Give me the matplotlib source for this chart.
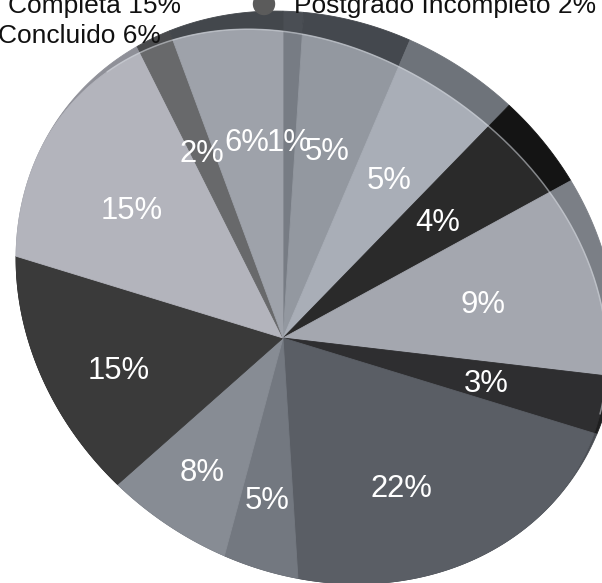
import numpy as np
import matplotlib
matplotlib.use("Agg")
import matplotlib.pyplot as plt
from matplotlib.patches import Polygon, Circle

# ---------------- data ----------------
values = [1, 5, 5, 4, 9, 3, 22, 5, 8, 15, 15, 2, 6]          # clockwise from 12 o'clock
pct_labels = [f"{v}%" for v in values]
legend_names = ["Completa", "Concluido", "Postgrado Incompleto"]
legend_values = [15, 6, 2]

# ---------------- style ----------------
face_colors = ["#777c84", "#9398a0", "#a9aeb7", "#2a2a2a", "#a4a7af", "#2e2e30",
               "#5a5e65", "#737880", "#878c94", "#3a3a3a", "#b3b4bc", "#68696b", "#9ea2aa"]
rim_colors = ["#4a4e54", "#44484e", "#6e737a", "#141414", "#7b7f86", "#1e1e1f",
              "#4a4d53", "#5c6067", "#6d7178", "#2c2c2c", "#8f9098", "#4a4b4d", "#43474c"]

# ---------------- layout (pixel frame of the tilted, perspective pie) ----------------
ECX, ECY, EA, EB, EANG = 316.1, 297.5, 271.4, 313.7, 125.6   # outline ellipse
APEX = np.array([283.0, 338.0])                               # pie centre as seen
SHEAR = 0.18                                                  # perspective skew of angles
RIM_MAX, RIM_DIR = 30.0, 55.0                                 # visible side wall
LABEL_P, LABEL_Q = 45.0, 0.5                                  # label distance = P + Q * radius


def img_angle(alpha):
    ar = np.radians(alpha)
    return np.degrees(np.arctan2(np.sin(ar) - SHEAR * np.cos(ar), np.cos(ar)))


def ray_len(beta):
    br = np.radians(beta)
    dvec = np.array([np.cos(br), -np.sin(br)])
    th = np.radians(EANG)
    R = np.array([[np.cos(th), -np.sin(th)], [np.sin(th), np.cos(th)]])
    q0 = R.T @ (APEX - [ECX, ECY]) / [EA, EB]
    qd = R.T @ dvec / [EA, EB]
    A2, B2, C2 = qd @ qd, 2 * q0 @ qd, q0 @ q0 - 1
    return (-B2 + np.sqrt(B2 ** 2 - 4 * A2 * C2)) / (2 * A2), dvec


def rim(beta):
    return RIM_MAX * np.clip(np.cos(np.radians(beta - RIM_DIR)), 0, None) ** 2


fig = plt.figure(figsize=(6.02, 5.83), dpi=100)
ax = fig.add_axes([0, 0, 1, 1])
ax.set_xlim(0, 602)
ax.set_ylim(583, 0)
ax.axis("off")

total = float(sum(values))
bounds = 90 - 360 * np.concatenate([[0], np.cumsum(values)]) / total
edge_pts = []
for i, v in enumerate(values):
    a0, a1 = bounds[i], bounds[i + 1]
    n = max(6, int(abs(a0 - a1) * 2))
    outer, inner = [APEX], [APEX]
    for al in np.linspace(a0, a1, n):
        be = img_angle(al)
        L, dv = ray_len(be)
        outer.append(APEX + L * dv)
        inner.append(APEX + (L - rim(be)) * dv)
        edge_pts.append((((be + 180) % 360) - 180, *(APEX + (L - rim(be)) * dv)))
    ax.add_patch(Polygon(outer, closed=True, facecolor=rim_colors[i], edgecolor=rim_colors[i],
                         lw=0.6, zorder=1))
    ax.add_patch(Polygon(inner, closed=True, facecolor=face_colors[i], edgecolor=face_colors[i],
                         lw=0.6, zorder=2))
    bm = img_angle((a0 + a1) / 2)
    L, dv = ray_len(bm)
    pos = APEX + (LABEL_P + LABEL_Q * (L - rim(bm))) * dv
    ax.text(pos[0], pos[1] + 11, pct_labels[i], color="white", fontsize=22.3,
            family="Liberation Sans", ha="center", va="baseline", zorder=5)

# thin highlight where the top face meets the side wall
edge_pts = np.array(sorted(p for p in edge_pts if rim(p[0]) > 4))
ax.plot(edge_pts[:, 1], edge_pts[:, 2], color="#d4d8de", lw=1.1, alpha=0.55, zorder=3,
        solid_capstyle="round")

# legend (cropped at top of the image)
ax.text(8, 13, f"{legend_names[0]} {legend_values[0]}%", fontsize=19, family="Liberation Sans",
        color="#111111", va="baseline", ha="left", zorder=6)
ax.text(-2, 43, f"{legend_names[1]} {legend_values[1]}%", fontsize=19, family="Liberation Sans",
        color="#111111", va="baseline", ha="left", zorder=6)
ax.add_patch(Circle((264, 4), 10.5, color="#5b5b5b", zorder=6))
ax.text(294, 13, f"{legend_names[2]} {legend_values[2]}%", fontsize=19, family="Liberation Sans",
        color="#111111", va="baseline", ha="left", zorder=6)

fig.savefig("out.png", dpi=100)
